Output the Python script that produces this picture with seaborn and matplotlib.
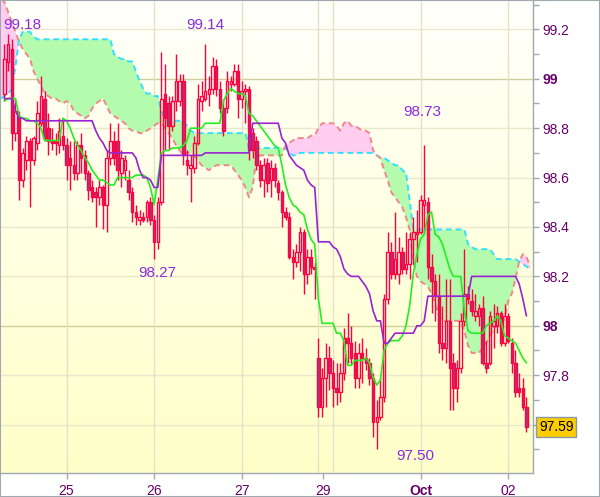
import numpy as np
import pandas as pd
import seaborn as sns
import matplotlib.pyplot as plt
from matplotlib.colors import LinearSegmentedColormap
from matplotlib.patches import Rectangle

# hourly candles, 24 Sep .. 02 Oct (weekend gap after Friday 27)
opens = [98.94, 99.07, 99.12, 98.78, 98.85, 98.59, 98.67, 98.75, 98.67, 98.74,
         98.82, 98.92, 98.80, 98.75, 98.75, 98.73, 98.77, 98.73, 98.68, 98.65,
         98.62, 98.73, 98.69, 98.62, 98.56, 98.54, 98.52, 98.56, 98.49, 98.68,
         98.75, 98.75, 98.62, 98.63, 98.59, 98.54, 98.46, 98.43, 98.44, 98.44,
         98.50, 98.43, 98.34, 98.50, 98.94, 98.90, 98.81, 98.91, 98.91, 98.99,
         98.67, 98.64, 98.64, 98.74, 98.91, 98.92, 98.94, 98.96, 99.05, 98.96,
         98.88, 98.88, 98.98, 98.98, 99.03, 98.92, 98.95, 98.96, 98.78, 98.75,
         98.65, 98.59, 98.66, 98.59, 98.64, 98.58, 98.54, 98.46, 98.44, 98.28,
         98.26, 98.30, 98.38, 98.21, 98.28, 98.24, 97.87, 97.67, 97.79, 97.87,
         97.81, 97.75, 97.73, 97.81, 97.95, 97.93, 97.89, 97.79, 97.89, 97.87,
         97.85, 97.79, 97.61, 97.63, 97.71, 98.11, 98.30, 98.21, 98.21, 98.30,
         98.23, 98.25, 98.35, 98.37, 98.38, 98.49, 98.50, 98.24, 98.18, 98.12,
         97.93, 97.91, 98.02, 97.85, 97.75, 97.83, 98.02, 98.13, 98.10, 98.04,
         98.04, 98.07, 97.85, 97.85, 98.00, 98.00, 98.05, 97.93, 98.04, 97.93,
         97.85, 97.75, 97.75, 97.67]
highs = [99.14, 99.18, 99.16, 98.92, 98.87, 98.72, 98.77, 98.76, 98.77, 98.91,
         99.01, 98.95, 98.86, 98.80, 98.78, 98.84, 98.83, 98.76, 98.75, 98.75,
         98.75, 98.78, 98.71, 98.63, 98.59, 98.56, 98.59, 98.57, 98.71, 98.82,
         98.79, 98.82, 98.71, 98.69, 98.63, 98.56, 98.49, 98.47, 98.46, 98.51,
         98.52, 98.45, 98.52, 99.11, 99.06, 98.93, 98.93, 99.10, 99.02, 99.02,
         98.71, 98.69, 98.77, 98.98, 98.99, 99.14, 99.01, 99.09, 99.08, 98.99,
         98.92, 99.03, 99.01, 99.06, 99.06, 98.99, 98.98, 98.97, 98.80, 98.77,
         98.67, 98.68, 98.68, 98.67, 98.66, 98.59, 98.55, 98.48, 98.46, 98.31,
         98.33, 98.40, 98.39, 98.31, 98.31, 98.26, 97.95, 97.83, 97.93, 97.92,
         97.86, 97.85, 97.85, 97.99, 98.05, 98.00, 97.94, 97.93, 97.95, 97.91,
         97.87, 97.81, 97.70, 97.79, 98.13, 98.38, 98.34, 98.46, 98.36, 98.32,
         98.38, 98.38, 98.44, 98.47, 98.53, 98.73, 98.52, 98.29, 98.21, 98.21,
         98.08, 98.19, 98.19, 97.89, 97.86, 98.05, 98.31, 98.16, 98.15, 98.13,
         98.09, 98.12, 97.94, 98.06, 98.09, 98.08, 98.06, 98.09, 98.05, 97.95,
         97.90, 97.81, 97.79, 97.71]
lows = [98.91, 99.03, 98.71, 98.75, 98.51, 98.56, 98.63, 98.48, 98.65, 98.71,
        98.81, 98.75, 98.69, 98.71, 98.69, 98.70, 98.71, 98.59, 98.55, 98.59,
        98.59, 98.62, 98.59, 98.51, 98.50, 98.40, 98.49, 98.39, 98.38, 98.65,
        98.65, 98.59, 98.56, 98.59, 98.51, 98.42, 98.41, 98.41, 98.42, 98.42,
        98.41, 98.27, 98.31, 98.49, 98.71, 98.71, 98.79, 98.87, 98.89, 98.65,
        98.61, 98.50, 98.62, 98.73, 98.87, 98.91, 98.89, 98.94, 98.93, 98.86,
        98.77, 98.86, 98.95, 98.97, 98.84, 98.88, 98.82, 98.67, 98.68, 98.63,
        98.56, 98.52, 98.54, 98.52, 98.56, 98.51, 98.40, 98.43, 98.27, 98.19,
        98.24, 98.22, 98.13, 98.17, 98.21, 98.11, 97.63, 97.63, 97.67, 97.74,
        97.67, 97.68, 97.69, 97.78, 97.85, 97.84, 97.75, 97.75, 97.77, 97.82,
        97.76, 97.55, 97.50, 97.62, 97.69, 98.09, 98.19, 98.19, 98.17, 98.21,
        98.21, 98.19, 98.25, 98.26, 98.37, 98.37, 98.19, 98.05, 98.02, 97.89,
        97.86, 97.85, 97.66, 97.66, 97.69, 97.81, 98.00, 98.09, 98.04, 98.02,
        98.00, 97.84, 97.81, 97.84, 97.91, 97.97, 97.92, 97.92, 97.93, 97.81,
        97.71, 97.71, 97.66, 97.57]
closes = [99.08, 99.14, 98.78, 98.87, 98.59, 98.70, 98.75, 98.67, 98.76, 98.86,
          98.93, 98.76, 98.75, 98.74, 98.74, 98.79, 98.73, 98.65, 98.65, 98.62,
          98.73, 98.68, 98.62, 98.55, 98.52, 98.52, 98.56, 98.49, 98.68, 98.75,
          98.68, 98.63, 98.68, 98.67, 98.54, 98.46, 98.44, 98.44, 98.43, 98.50,
          98.43, 98.34, 98.50, 98.92, 98.84, 98.81, 98.91, 98.99, 98.99, 98.69,
          98.65, 98.65, 98.74, 98.92, 98.93, 98.95, 98.96, 99.05, 98.96, 98.88,
          98.79, 98.99, 98.99, 99.03, 98.92, 98.95, 98.96, 98.71, 98.71, 98.65,
          98.59, 98.65, 98.58, 98.64, 98.59, 98.54, 98.46, 98.44, 98.28, 98.26,
          98.30, 98.38, 98.21, 98.28, 98.24, 98.23, 97.67, 97.79, 97.87, 97.81,
          97.75, 97.73, 97.81, 97.95, 97.93, 97.87, 97.79, 97.89, 97.87, 97.85,
          97.79, 97.61, 97.63, 97.71, 98.11, 98.30, 98.21, 98.27, 98.30, 98.23,
          98.25, 98.35, 98.38, 98.38, 98.51, 98.51, 98.24, 98.18, 98.12, 97.93,
          97.91, 98.02, 97.83, 97.75, 97.83, 98.02, 98.13, 98.11, 98.06, 98.06,
          98.07, 97.85, 97.83, 98.04, 98.02, 98.05, 97.93, 98.04, 97.94, 97.85,
          97.73, 97.73, 97.67, 97.59]

# conversion line (green) and base line (purple)
tenkan = [98.91, 98.92, 98.92, 98.92, 98.85, 98.84, 98.84, 98.83, 98.83, 98.82,
          98.80, 98.75, 98.75, 98.75, 98.75, 98.75, 98.84, 98.83, 98.80, 98.76,
          98.73, 98.71, 98.68, 98.66, 98.63, 98.61, 98.59, 98.59, 98.58, 98.57,
          98.57, 98.60, 98.60, 98.60, 98.60, 98.60, 98.61, 98.61, 98.61, 98.60,
          98.56, 98.49, 98.59, 98.70, 98.71, 98.71, 98.72, 98.72, 98.72, 98.73,
          98.75, 98.80, 98.80, 98.80, 98.80, 98.82, 98.82, 98.82, 98.82, 98.82,
          98.91, 98.94, 98.96, 98.95, 98.94, 98.94, 98.93, 98.86, 98.85, 98.83,
          98.81, 98.79, 98.77, 98.75, 98.73, 98.72, 98.65, 98.57, 98.52, 98.49,
          98.48, 98.46, 98.45, 98.39, 98.35, 98.33, 98.11, 98.01, 98.01, 98.01,
          98.01, 97.97, 97.97, 97.94, 97.84, 97.84, 97.86, 97.86, 97.86, 97.87,
          97.85, 97.79, 97.76, 97.78, 97.90, 97.93, 97.94, 97.94, 97.94, 97.96,
          98.00, 98.08, 98.21, 98.29, 98.35, 98.37, 98.45, 98.46, 98.37, 98.36,
          98.33, 98.28, 98.23, 98.20, 98.20, 98.20, 98.06, 97.98, 97.97, 97.97,
          97.97, 97.97, 98.00, 98.01, 98.02, 98.04, 98.02, 97.96, 97.95, 97.94,
          97.93, 97.90, 97.87, 97.85]
kijun = [98.92, 98.92, 98.92, 98.87, 98.84, 98.84, 98.83, 98.83, 98.83, 98.83,
         98.83, 98.83, 98.83, 98.83, 98.83, 98.83, 98.83, 98.83, 98.83, 98.83,
         98.83, 98.83, 98.83, 98.83, 98.83, 98.79, 98.76, 98.74, 98.71, 98.70,
         98.70, 98.70, 98.70, 98.70, 98.70, 98.70, 98.68, 98.63, 98.60, 98.60,
         98.59, 98.56, 98.56, 98.69, 98.69, 98.69, 98.69, 98.69, 98.69, 98.69,
         98.69, 98.69, 98.69, 98.69, 98.69, 98.70, 98.70, 98.70, 98.70, 98.70,
         98.70, 98.70, 98.70, 98.70, 98.70, 98.70, 98.70, 98.70, 98.82, 98.82,
         98.82, 98.82, 98.82, 98.82, 98.82, 98.82, 98.76, 98.74, 98.69, 98.67,
         98.65, 98.64, 98.63, 98.59, 98.57, 98.56, 98.34, 98.34, 98.34, 98.34,
         98.32, 98.31, 98.28, 98.23, 98.21, 98.20, 98.20, 98.20, 98.18, 98.16,
         98.13, 98.06, 98.02, 98.02, 97.93, 97.93, 97.95, 97.97, 97.97, 97.97,
         97.97, 97.97, 97.97, 98.00, 98.00, 98.02, 98.12, 98.12, 98.12, 98.12,
         98.12, 98.12, 98.12, 98.12, 98.12, 98.12, 98.12, 98.12, 98.20, 98.20,
         98.20, 98.20, 98.20, 98.20, 98.20, 98.20, 98.20, 98.20, 98.20, 98.20,
         98.20, 98.17, 98.11, 98.04]

# cloud spans, starting one hour before the first candle
span_a = [98.92,
          98.93, 98.94, 98.96, 99.05, 99.16, 99.19, 99.19, 99.19, 99.17, 99.16,
          99.16, 99.16, 99.16, 99.16, 99.16, 99.16, 99.16, 99.16, 99.16, 99.16,
          99.16, 99.16, 99.16, 99.16, 99.16, 99.16, 99.16, 99.16, 99.16, 99.16,
          99.10, 99.09, 99.08, 99.08, 99.07, 99.07, 99.03, 98.99, 98.96, 98.94,
          98.94, 98.93, 98.93, 98.87, 98.83, 98.83, 98.83, 98.83, 98.83, 98.83,
          98.81, 98.79, 98.78, 98.78, 98.78, 98.78, 98.78, 98.78, 98.78, 98.78,
          98.78, 98.78, 98.78, 98.78, 98.78, 98.78, 98.78, 98.72, 98.72, 98.72,
          98.72, 98.72, 98.72, 98.72, 98.72, 98.72, 98.72, 98.72, 98.70, 98.69,
          98.69, 98.70, 98.70, 98.70, 98.70, 98.70, 98.70, 98.70, 98.70, 98.70,
          98.70, 98.70, 98.70, 98.70, 98.70, 98.70, 98.70, 98.70, 98.70, 98.70,
          98.70, 98.70, 98.69, 98.68, 98.68, 98.67, 98.66, 98.65, 98.65, 98.63,
          98.62, 98.51, 98.39, 98.39, 98.39, 98.39, 98.39, 98.39, 98.39, 98.39,
          98.39, 98.39, 98.39, 98.39, 98.39, 98.39, 98.39, 98.33, 98.32, 98.31,
          98.31, 98.31, 98.31, 98.31, 98.29, 98.27, 98.27, 98.27, 98.27, 98.27,
          98.27, 98.26, 98.25, 98.24, 98.23]
span_b = [99.33,
          99.31, 99.27, 99.23, 99.19, 99.15, 99.12, 99.10, 99.08, 99.03, 99.00,
          98.97, 98.94, 98.93, 98.92, 98.92, 98.91, 98.90, 98.91, 98.90, 98.87,
          98.86, 98.85, 98.84, 98.85, 98.88, 98.90, 98.91, 98.92, 98.89, 98.86,
          98.85, 98.84, 98.83, 98.82, 98.80, 98.79, 98.79, 98.78, 98.78, 98.79,
          98.80, 98.81, 98.82, 98.82, 98.80, 98.78, 98.76, 98.73, 98.71, 98.69,
          98.70, 98.70, 98.69, 98.67, 98.65, 98.64, 98.63, 98.64, 98.65, 98.65,
          98.65, 98.65, 98.65, 98.63, 98.61, 98.59, 98.56, 98.52, 98.56, 98.68,
          98.69, 98.69, 98.69, 98.69, 98.69, 98.69, 98.69, 98.73, 98.74, 98.75,
          98.76, 98.76, 98.76, 98.76, 98.77, 98.77, 98.80, 98.82, 98.82, 98.82,
          98.82, 98.81, 98.79, 98.82, 98.83, 98.81, 98.81, 98.80, 98.79, 98.79,
          98.78, 98.71, 98.69, 98.68, 98.63, 98.59, 98.54, 98.52, 98.50, 98.48,
          98.44, 98.39, 98.26, 98.20, 98.18, 98.17, 98.16, 98.13, 98.09, 98.04,
          98.02, 98.02, 98.02, 98.02, 98.02, 98.02, 97.98, 97.92, 97.89, 97.89,
          97.89, 97.91, 97.93, 97.96, 97.99, 98.00, 98.00, 98.03, 98.10, 98.13,
          98.19, 98.26, 98.29, 98.28, 98.24]

day_starts = [17, 41, 65, 86, 90, 114, 138]
label_pos = [17, 41, 65, 87.4, 114, 138]
day_labels = ["25", "26", "27", "29", "Oct", "02"]

y_major = [97.6, 97.8, 98.0, 98.2, 98.4, 98.6, 98.8, 99.0, 99.2]
y_labels = ["", "97.8", "98", "98.2", "98.4", "98.6", "98.8", "99", "99.2"]
y_minor = [97.5, 97.7, 97.9, 98.1, 98.3, 98.5, 98.7, 98.9, 99.1, 99.3]

peak_idx = [1, 55, 115, 41, 102]
peak_vals = [99.18, 99.14, 98.73, 98.27, 97.50]
peak_offsets = [(14, 9), (0, 19), (-2, 33), (3, -14), (38, -7)]

sns.set_style("white")
plt.rcParams['font.family'] = ['Liberation Sans', 'DejaVu Sans']

df = pd.DataFrame({"open": opens, "high": highs, "low": lows, "close": closes,
                   "tenkan": tenkan, "kijun": kijun})
df["x"] = np.arange(len(df))
cloud = pd.DataFrame({"x": np.arange(-1, len(span_a) - 1), "a": span_a, "b": span_b})

fig = plt.figure(figsize=(6, 4.97), dpi=100)
ax = fig.add_axes([0, 24 / 497, 533 / 600, 473 / 497])
x0, x1 = -1.23, 144.8
y0, y1 = 97.404, 99.319

# pale yellow gradient background
grad = LinearSegmentedColormap.from_list("bg", ["#fffffb", "#ffffc9"])
ax.imshow(np.linspace(0, 1, 256).reshape(-1, 1), extent=[x0, x1, y0, y1],
          aspect="auto", cmap=grad, origin="upper", zorder=0)

for v in y_major:
    ax.axhline(v, color="#cfcf9c" if round(v, 1) in (98.0, 99.0) else "#e8e8cc", lw=1, zorder=0.5)
for d in day_starts:
    ax.axvline(d, color="#e2e2c8", lw=1, zorder=0.5)

# cloud
cx, a, b = cloud["x"].to_numpy(), cloud["a"].to_numpy(), cloud["b"].to_numpy()
ax.fill_between(cx, a, b, where=a >= b, interpolate=True, color="#b5fbad", lw=0, zorder=1)
ax.fill_between(cx, a, b, where=a < b, interpolate=True, color="#ffcdf0", lw=0, zorder=1)
sns.lineplot(data=cloud, x="x", y="a", ax=ax, color="#30e0ff", linewidth=1.4,
             linestyle=(0, (3, 2)), zorder=2)
sns.lineplot(data=cloud, x="x", y="b", ax=ax, color="#f08888", linewidth=1.4,
             linestyle=(0, (3, 2)), zorder=2)

# candles
red = "#ff0040"
o, c = df["open"].to_numpy(), df["close"].to_numpy()
top, bot = np.maximum(o, c), np.minimum(o, c)
up = c >= o
xs = df["x"].to_numpy()
ax.vlines(xs, top, df["high"], color=red, lw=1, zorder=3)
ax.vlines(xs, df["low"], bot, color=red, lw=1, zorder=3)
ax.bar(xs[up], (top - bot)[up], bottom=bot[up], width=0.68, facecolor="none",
       edgecolor=red, linewidth=1, zorder=3)
ax.bar(xs[~up], (top - bot)[~up], bottom=bot[~up], width=0.68, facecolor="#b0357a",
       edgecolor=red, linewidth=1, zorder=3)

sns.lineplot(data=df, x="x", y="tenkan", ax=ax, color="#22ee22", linewidth=1.2, zorder=4)
sns.lineplot(data=df, x="x", y="kijun", ax=ax, color="#9a22d0", linewidth=1.2, zorder=4)

# high / low markers
for idx, val, (dx, dy) in zip(peak_idx, peak_vals, peak_offsets):
    ax.annotate(f"{val:.2f}", xy=(idx, val), xytext=(dx, dy), textcoords="offset pixels",
                ha="center", va="center", fontsize=11, color="#8a2be2", zorder=6)

# last price box
ax.annotate(f"{closes[-1]:.2f}", xy=(1, closes[-1]), xycoords=("axes fraction", "data"),
            xytext=(6, 0), textcoords="offset pixels", ha="left", va="center",
            fontsize=10, color="black", annotation_clip=False, zorder=6,
            bbox=dict(boxstyle="square,pad=0.2", fc="#ffcc00", ec="#8a9aaa", lw=1))

ax.set_xlim(x0, x1)
ax.set_ylim(y0, y1)
ax.set_xlabel("")
ax.set_ylabel("")
ax.yaxis.tick_right()
ax.set_yticks(y_major)
ax.set_yticklabels(y_labels)
ax.set_yticks(y_minor, minor=True)
ax.tick_params(axis="y", which="both", right=True, left=False, length=4, width=1,
               color="#a0a8b0", pad=3, labelsize=10, labelcolor="#660066")
ax.set_xticks(label_pos)
ax.set_xticklabels(day_labels)
ax.tick_params(axis="x", bottom=True, length=4, width=1, color="#a0a8b0", pad=4,
               labelsize=10, labelcolor="#660066")
for lbl in ax.get_yticklabels():
    if lbl.get_text() in ("98", "99"):
        lbl.set_fontweight("bold")
for lbl in ax.get_xticklabels():
    if lbl.get_text() == "Oct":
        lbl.set_fontweight("bold")

for side in ("top", "left"):
    ax.spines[side].set_visible(False)
for side in ("right", "bottom"):
    ax.spines[side].set_color("#a0a8b0")
    ax.spines[side].set_linewidth(1)

fig.add_artist(Rectangle((0, 0), 1, 1, transform=fig.transFigure, fill=False,
                         ec="#a0a8b0", lw=1.5))

fig.savefig("out.png", dpi=100)
